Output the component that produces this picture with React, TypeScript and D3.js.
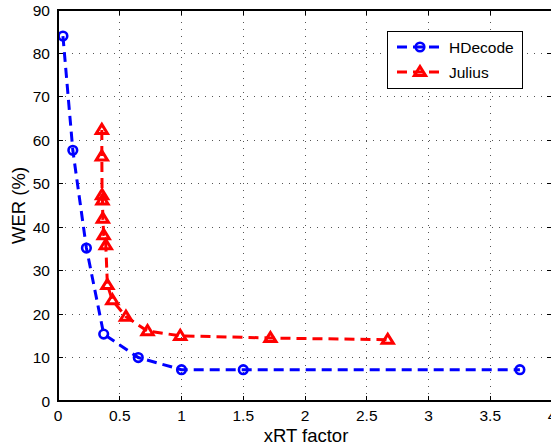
import React from 'react';
import * as d3 from 'd3';

const W = 551;
const H = 448;

// HDecode (blue circles)
const hdecodeX = [0.04, 0.12, 0.23, 0.37, 0.65, 1.0, 1.5, 3.74];
const hdecodeY = [84.0, 57.7, 35.2, 15.4, 10.0, 7.2, 7.2, 7.2];

// Julius (red triangles)
const juliusX = [0.355, 0.355, 0.357, 0.36, 0.363, 0.37, 0.387, 0.4, 0.44, 0.55, 0.725, 0.99, 1.72, 2.67];
const juliusY = [62.4, 56.3, 47.4, 46.2, 42.0, 38.2, 35.9, 26.7, 23.2, 19.4, 16.1, 15.0, 14.5, 14.1];

const xTicks = [0, 0.5, 1, 1.5, 2, 2.5, 3, 3.5, 4];
const yTicks = [0, 10, 20, 30, 40, 50, 60, 70, 80, 90];
const xTickLabels = ['0', '0.5', '1', '1.5', '2', '2.5', '3', '3.5', '4'];

const series = [
  { name: 'HDecode', xs: hdecodeX, ys: hdecodeY, color: '#0000ff', marker: 'circle' },
  { name: 'Julius', xs: juliusX, ys: juliusY, color: '#ff0000', marker: 'triangle' },
];

const font = 'Liberation Sans, Arial, Helvetica, sans-serif';

function Marker({ kind, cx, cy, color }: { kind: string; cx: number; cy: number; color: string }) {
  if (kind === 'circle') {
    return <circle cx={cx} cy={cy} r={4.3} fill="none" stroke={color} strokeWidth={2.6} />;
  }
  const pts = [
    [cx, cy - 5.5],
    [cx - 5.6, cy + 3.6],
    [cx + 5.6, cy + 3.6],
  ];
  return (
    <polygon
      points={pts.map(p => p.join(',')).join(' ')}
      fill="none"
      stroke={color}
      strokeWidth={3}
      strokeLinejoin="miter"
    />
  );
}

export default function App() {
  const x = d3.scaleLinear().domain([0, 4]).range([58, 552]);
  const y = d3.scaleLinear().domain([0, 90]).range([401, 10]);
  const [x0, x1] = x.range();
  const [y0, y1] = y.range();

  const lineGen = d3
    .line<[number, number]>()
    .x(d => x(d[0]))
    .y(d => y(d[1]));

  return (
    <svg
      width={W}
      height={H}
      style={{ position: 'absolute', left: 0, top: 0, background: '#fff' }}
      fontFamily={font}
    >
      <rect x={0} y={0} width={W} height={H} fill="#fff" />
      {/* grid */}
      <g stroke="#555" strokeWidth={1} strokeDasharray="1,6" shapeRendering="crispEdges">
        {xTicks.slice(1, -1).map(t => (
          <line key={'gx' + t} x1={x(t)} x2={x(t)} y1={y0} y2={y1} />
        ))}
        {yTicks.slice(1, -1).map(t => (
          <line key={'gy' + t} x1={x0} x2={x1} y1={y(t)} y2={y(t)} />
        ))}
      </g>
      {/* ticks */}
      <g stroke="#000" strokeWidth={1} shapeRendering="crispEdges">
        {xTicks.map(t => (
          <g key={'tx' + t}>
            <line x1={x(t)} x2={x(t)} y1={y0} y2={y0 - 5} />
            <line x1={x(t)} x2={x(t)} y1={y1} y2={y1 + 5} />
          </g>
        ))}
        {yTicks.map(t => (
          <g key={'ty' + t}>
            <line x1={x0} x2={x0 + 5} y1={y(t)} y2={y(t)} />
            <line x1={x1} x2={x1 - 5} y1={y(t)} y2={y(t)} />
          </g>
        ))}
      </g>
      {/* series */}
      {series.map(s => {
        const pts = s.xs.map((v, i) => [v, s.ys[i]] as [number, number]);
        return (
          <g key={s.name}>
            <path
              d={lineGen(pts) || ''}
              fill="none"
              stroke={s.color}
              strokeWidth={3}
              strokeDasharray="10,6"
            />
            {pts.map((p, i) => (
              <Marker key={i} kind={s.marker} cx={x(p[0])} cy={y(p[1])} color={s.color} />
            ))}
          </g>
        );
      })}
      {/* axes box */}
      <rect
        x={x0}
        y={y1}
        width={x1 - x0}
        height={y0 - y1}
        fill="none"
        stroke="#000"
        strokeWidth={1.2}
        shapeRendering="crispEdges"
      />
      {/* tick labels */}
      <g fontSize={15.5} fill="#000">
        {xTicks.map((t, i) => (
          <text key={'lx' + t} x={x(t)} y={y0 + 20} textAnchor="middle">
            {xTickLabels[i]}
          </text>
        ))}
        {yTicks.map(t => (
          <text key={'ly' + t} x={x0 - 8} y={y(t) + 5.5} textAnchor="end">
            {t}
          </text>
        ))}
      </g>
      {/* axis labels */}
      <text x={306} y={442} fontSize={18.5} textAnchor="middle">
        xRT factor
      </text>
      <text
        transform={`translate(25,${(y0 + y1) / 2}) rotate(-90)`}
        fontSize={18.5}
        textAnchor="middle"
      >
        WER (%)
      </text>
      {/* legend */}
      <g>
        <rect x={387} y={31} width={135} height={57} fill="#fff" stroke="#000" strokeWidth={1} shapeRendering="crispEdges" />
        {series.map((s, i) => {
          const ly = 47 + i * 25;
          return (
            <g key={'leg' + s.name}>
              <line x1={397} x2={444} y1={ly} y2={ly} stroke={s.color} strokeWidth={3} strokeDasharray="10,6" />
              <Marker kind={s.marker} cx={420} cy={ly} color={s.color} />
              <text x={449} y={ly + 5.5} fontSize={15.5}>
                {s.name}
              </text>
            </g>
          );
        })}
      </g>
    </svg>
  );
}
